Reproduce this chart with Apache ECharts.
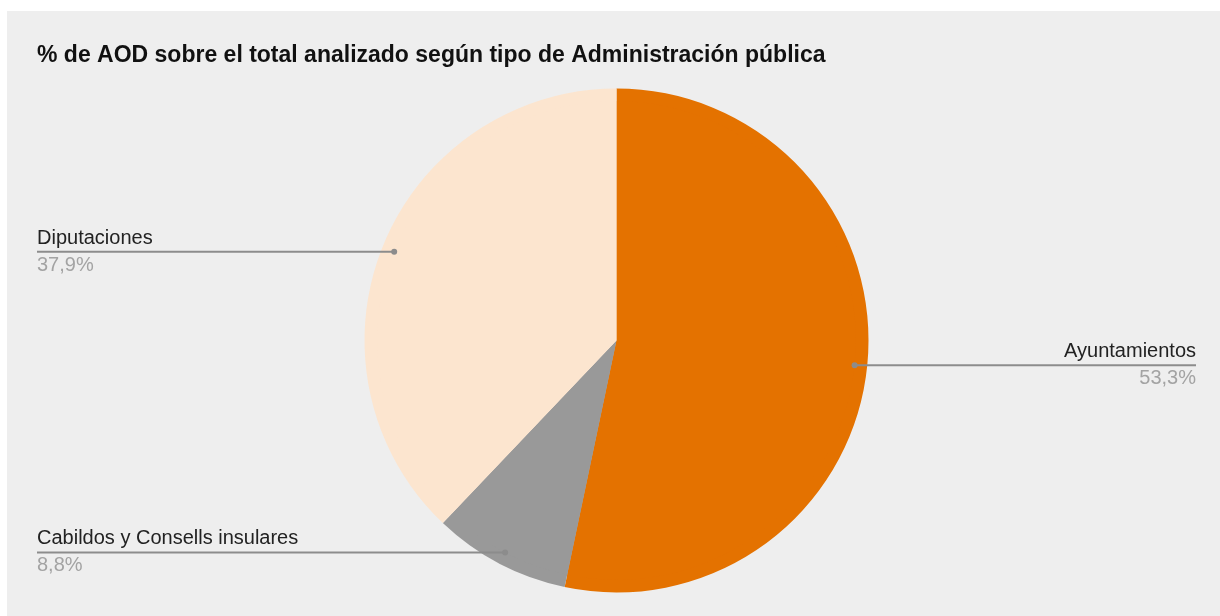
<!DOCTYPE html>
<html>
<head>
<meta charset="utf-8">
<script src="https://cdn.jsdelivr.net/npm/echarts@6/dist/echarts.min.js"></script>
<style>
  html, body { margin: 0; padding: 0; background: #ffffff; }
  #chart { position: absolute; left: 7px; top: 11px; width: 1213px; height: 605px; background: #eeeeee; }
</style>
</head>
<body>
<div id="chart"></div>
<script>
(function() {
  var title = '% de AOD sobre el total analizado según tipo de Administración pública';
  var categories = ['Ayuntamientos', 'Cabildos y Consells insulares', 'Diputaciones'];
  var shares = [53.3, 8.8, 37.9];
  var colors = ['#e47200', '#999999', '#fce5cf'];

  var ink = '#222222';
  var muted = '#a3a3a3';
  var rule = '#8c8c8c';
  var center = [609.5, 329.5];
  var radius = 252;
  var anchor = 0.95;      // leader lines start at 95% of the radius
  var edge = 30;          // label distance from the chart sides
  var rightBleed = 6;
  var font = '"Liberation Sans", Arial, sans-serif';

  function pct(v) { return v.toFixed(1).replace('.', ',') + '%'; }

  // polar position [radius, angle%] of the middle of each slice
  var total = shares.reduce(function(a, b) { return a + b; }, 0);
  var acc = 0;
  var anchors = shares.map(function(v) {
    var mid = (acc + v / 2) / total * 100;
    acc += v;
    return [anchor, mid];
  });

  var pieData = categories.map(function(name, i) {
    return { name: name, value: shares[i], itemStyle: { color: colors[i] } };
  });

  var chart = echarts.init(document.getElementById('chart'), null, { renderer: 'canvas' });
  chart.setOption({
    animation: false,
    textStyle: { fontFamily: font },
    title: {
      text: title,
      left: 30,
      top: 33,
      padding: 0,
      textStyle: { fontFamily: font, fontSize: 23, fontWeight: 'bold', color: '#111111' }
    },
    polar: { center: center, radius: radius },
    angleAxis: { type: 'value', min: 0, max: 100, startAngle: 90, clockwise: true, show: false },
    radiusAxis: { type: 'value', min: 0, max: 1, show: false },
    series: [{
      type: 'pie',
      center: center,
      radius: radius,
      silent: true,
      itemStyle: { borderWidth: 0 },
      label: { show: false },
      labelLine: { show: false },
      data: pieData
    }, {
      // invisible pie at the anchor radius, only used to place the labels
      type: 'pie',
      center: center,
      radius: radius * anchor,
      left: 0,
      right: -rightBleed,
      silent: true,
      itemStyle: { color: 'transparent', borderWidth: 0 },
      label: {
        show: true,
        position: 'outside',
        alignTo: 'edge',
        edgeDistance: edge,
        distanceToLabelLine: 0,
        formatter: function(p) { return '{n|' + p.name + '}\n{v|' + pct(p.value) + '}'; },
        rich: {
          n: { fontFamily: font, fontSize: 20, color: ink, lineHeight: 27 },
          v: { fontFamily: font, fontSize: 20, color: muted, lineHeight: 27 }
        }
      },
      labelLine: { show: true, length: 0, length2: 10, lineStyle: { opacity: 0 } },
      data: pieData
    }, {
      // leader lines with a dot, from the slice middle to the label side
      type: 'custom',
      coordinateSystem: 'polar',
      silent: true,
      z: 5,
      renderItem: function(params, api) {
        var p = api.coord([api.value(0), api.value(1)]);
        var leftSide = p[0] < center[0];
        var endX = leftSide ? edge : api.getWidth() + rightBleed - edge;
        return {
          type: 'group',
          children: [{
            type: 'line',
            shape: { x1: p[0], y1: p[1], x2: endX, y2: p[1] },
            style: { stroke: rule, lineWidth: 2 }
          }, {
            type: 'circle',
            shape: { cx: p[0], cy: p[1], r: 3 },
            style: { fill: rule }
          }]
        };
      },
      data: anchors
    }]
  });
  window.addEventListener('resize', function() { chart.resize(); });
})();
</script>
</body>
</html>
